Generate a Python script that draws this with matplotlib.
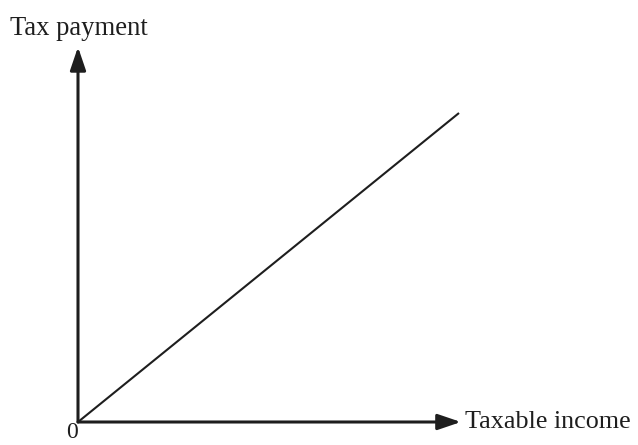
import matplotlib.pyplot as plt

# proportional tax: tax payment rises linearly with taxable income
income = [0, 100]
tax = [0, 81]

# axis arrow tips (data units)
x_tip = 100.5
y_tip = 98.3

ink = '#1e1e1e'
plt.rcParams['font.family'] = ['Liberation Serif', 'DejaVu Serif']

fig = plt.figure(figsize=(6.38, 4.45), dpi=100)
ax = fig.add_axes([0, 0, 1, 1])
# 1 px = 100/381 income units, 81/309 tax units; origin at pixel (78, 422)
ax.set_xlim(-78 / 381 * 100, (638 - 78) / 381 * 100)
ax.set_ylim(-23 / 309 * 81, 422 / 309 * 81)
ax.axis('off')

arrow = dict(arrowstyle='-|>,head_length=0.5,head_width=0.17', lw=2.2,
             color=ink, mutation_scale=28, shrinkA=0, shrinkB=0)
ax.annotate('', xy=(x_tip, 0), xytext=(0, 0), arrowprops=arrow)
ax.annotate('', xy=(0, y_tip), xytext=(0, 0), arrowprops=arrow)

ax.plot(income, tax, color=ink, lw=1.5, solid_capstyle='butt')

ax.text(-68 / 381 * 100, 387 / 309 * 81, 'Tax payment', fontsize=19.2,
        color=ink, ha='left', va='baseline')
ax.text(x_tip + 4 / 381 * 100, 0, 'Taxable income', fontsize=18.8,
        color=ink, ha='left', va='center')
ax.text(-6 / 381 * 100, -21 / 309 * 81, '0', fontsize=17,
        color=ink, ha='center', va='bottom')

fig.savefig('out.png', dpi=100)
